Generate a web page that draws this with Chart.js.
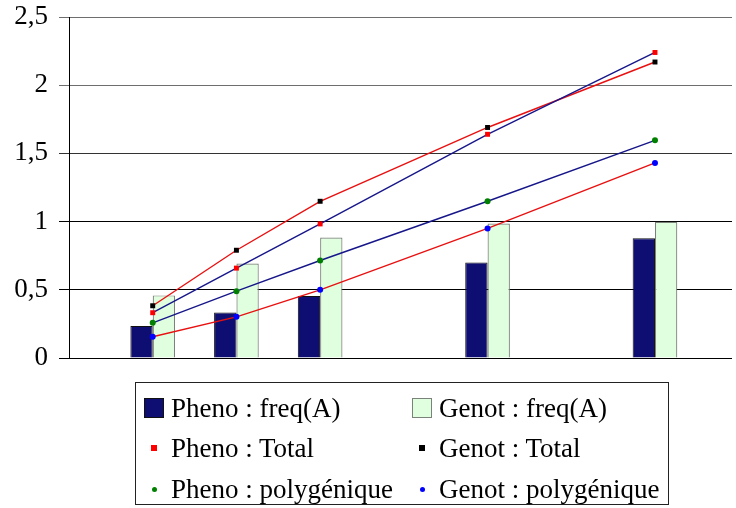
<!DOCTYPE html>
<html>
<head>
<meta charset="utf-8">
<script src="https://cdn.jsdelivr.net/npm/chart.js@4"></script>
<style>
  body { margin: 0; background: #fff; }
  #wrap { position: relative; width: 736px; height: 508px; }
  #legende {
    position: absolute; left: 135px; top: 382px; width: 534px; height: 123px;
    border: 1px solid #222; box-sizing: border-box;
    font-family: "Liberation Serif", serif; font-size: 27px; color: #000;
  }
  .item { position: absolute; height: 30px; line-height: 30px; white-space: nowrap; }
  .mark { position: absolute; box-sizing: border-box; }
</style>
</head>
<body>
<div id="wrap">
  <canvas id="grafico" width="736" height="508"></canvas>
  <div id="legende"></div>
</div>
<script>
// positions on the x axis (no labels shown)
const positions = [1, 2, 3, 5, 7];

const phenoFreq = [0.234, 0.334, 0.454, 0.70, 0.878];
const genotFreq = [0.459, 0.693, 0.883, 0.986, 0.998];
const phenoTotal = [0.332, 0.659, 0.983, 1.64, 2.24];
const genotTotal = [0.383, 0.79, 1.149, 1.69, 2.17];
const phenoPoly = [0.258, 0.49, 0.715, 1.149, 1.596];
const genotPoly = [0.156, 0.302, 0.50, 0.95, 1.43];

const yTicks = [0, 0.5, 1, 1.5, 2, 2.5];

const police = "Liberation Serif";

function points(valeurs) {
  return valeurs.map((v, i) => ({ x: positions[i], y: v }));
}

function serieLigne(label, valeurs, couleurLigne, couleurPoint, forme, rayon) {
  return {
    type: "line",
    label: label,
    data: points(valeurs),
    borderColor: couleurLigne,
    borderWidth: 1.4,
    pointStyle: forme,
    pointRadius: rayon,
    pointBackgroundColor: couleurPoint,
    pointBorderColor: couleurPoint,
    pointBorderWidth: 0,
    tension: 0,
    order: 0
  };
}

const datasets = [
  {
    type: "bar", label: "Pheno : freq(A)", data: points(phenoFreq),
    backgroundColor: "#0e0e72", borderColor: "#111", borderWidth: 1, order: 1
  },
  {
    type: "bar", label: "Genot : freq(A)", data: points(genotFreq),
    backgroundColor: "#dfffdf", borderColor: "#7a827a", borderWidth: 1.2, order: 1
  },
  serieLigne("Pheno : Total", phenoTotal, "#16168a", "#ff0000", "rect", 3.5),
  serieLigne("Genot : Total", genotTotal, "#e81010", "#000000", "rect", 3.5),
  serieLigne("Pheno : polygénique", phenoPoly, "#16168a", "#008000", "circle", 3),
  serieLigne("Genot : polygénique", genotPoly, "#e81010", "#0000ff", "circle", 3)
];

new Chart(document.getElementById("grafico"), {
  data: { datasets: datasets },
  options: {
    responsive: false,
    animation: false,
    layout: { padding: { top: 17, bottom: 150, right: 0, left: 0 } },
    datasets: { bar: { barPercentage: 1, categoryPercentage: 0.58 } },
    plugins: { legend: { display: false }, tooltip: { enabled: false } },
    scales: {
      x: {
        type: "linear", min: 0, max: 7.92, display: false, offset: false,
        ticks: { stepSize: 1 }
      },
      y: {
        min: 0, max: 2.5,
        afterFit: scale => {
          scale.width = 69;
          scale.paddingTop = 0;
          scale.paddingBottom = 0;
        },
        afterBuildTicks: scale => { scale.ticks = yTicks.map(v => ({ value: v })); },
        border: { color: "#000", width: 1 },
        grid: {
          color: ctx => ctx.tick && ctx.tick.value >= 2 ? "#6e6e6e" : (ctx.tick && ctx.tick.value == 1.5 ? "#333" : "#000"),
          tickLength: 10
        },
        ticks: {
          padding: 11,
          color: "#000",
          font: { family: police, size: 27 },
          callback: v => String(v).replace(".", ",")
        }
      }
    }
  }
});

// legende en deux colonnes, comme dans l'original
const legende = document.getElementById("legende");
const colonnesX = [17, 285];
const lignesY = [10, 50, 91];
datasets.forEach((ds, i) => {
  const col = i % 2, lig = Math.floor(i / 2);
  const item = document.createElement("div");
  item.className = "item";
  item.style.left = colonnesX[col] + "px";
  item.style.top = lignesY[lig] + "px";
  const mark = document.createElement("div");
  mark.className = "mark";
  if (ds.type === "bar") {
    mark.style.cssText += `left:-9px;top:5px;width:20px;height:20px;background:${ds.backgroundColor};border:1px solid ${ds.borderColor};`;
  } else {
    const d = ds.pointStyle === "rect" ? 6 : 5;
    const rond = ds.pointStyle === "circle" ? "border-radius:50%;" : "";
    mark.style.cssText += `left:${1 - d / 2}px;top:${15 - d / 2}px;width:${d}px;height:${d}px;background:${ds.pointBackgroundColor};${rond}`;
  }
  const txt = document.createElement("span");
  txt.textContent = ds.label;
  txt.style.position = "absolute";
  txt.style.left = "18px";
  item.appendChild(mark);
  item.appendChild(txt);
  legende.appendChild(item);
});
</script>
</body>
</html>
